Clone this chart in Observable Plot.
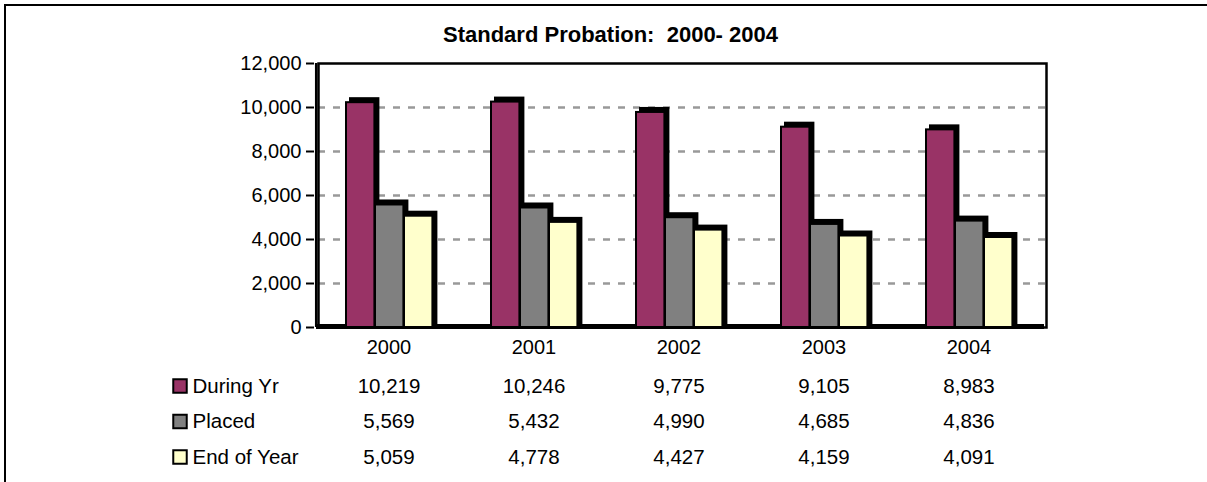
<!DOCTYPE html>
<html>
<head>
<meta charset="utf-8">
<script src="https://cdn.jsdelivr.net/npm/d3@7"></script>
<script src="https://cdn.jsdelivr.net/npm/@observablehq/plot@0.6"></script>
<style>
  html, body { margin: 0; padding: 0; background: #fff; }
  #wrap { position: relative; width: 1207px; height: 482px; overflow: hidden; }
  #border { position: absolute; left: 4px; top: 4px; width: 1300px; height: 600px;
            border-left: 2px solid #000; border-top: 2px solid #000; pointer-events: none; }
  svg text { white-space: pre; }
</style>
</head>
<body>
<div id="wrap"><div id="border"></div></div>
<script>
// ---- data ----
const years = ["2000", "2001", "2002", "2003", "2004"];
const seriesNames = ["During Yr", "Placed", "End of Year"];
const duringYr = [10219, 10246, 9775, 9105, 8983];
const placed = [5569, 5432, 4990, 4685, 4836];
const endOfYear = [5059, 4778, 4427, 4159, 4091];
const yTicks = [0, 2000, 4000, 6000, 8000, 10000, 12000];
const titleText = "Standard Probation:  2000- 2004";

// ---- build tables ----
const seriesValues = [duringYr, placed, endOfYear];
const colors = ["#993366", "#808080", "#FFFFCC"];
const rows = seriesNames.flatMap((s, si) => years.map((y, yi) => ({series: s, si, year: y, value: seriesValues[si][yi]})));

const W = 1207, H = 482;
const mL = 314, mR = 165, mT = 63, mB = 155;
const band = (W - mL - mR) / years.length;
const barEdges = [[30, 59], [59, 88], [88, 117]];
const fmt = d3.format(",");
const rowDy = [58.5, 94, 129.5];

const marks = [];
// back-wall gridlines
marks.push(Plot.ruleY(yTicks.filter(d => d > 0 && d < 12000), {stroke: "#999999", strokeWidth: 2.5, strokeDasharray: "7,8", dx: 4}));
// back wall box
marks.push(Plot.frame({stroke: "black", strokeWidth: 2.5, dx: 4}));
// left wall outer line
marks.push(Plot.ruleX([years[0]], {dx: -band / 2, stroke: "black", strokeWidth: 2.5}));
// floor
marks.push(Plot.ruleY([0], {stroke: "black", strokeWidth: 5, dx: 2, dy: -1}));
// axes
marks.push(Plot.axisY({ticks: yTicks, tickFormat: fmt, tickSize: 8, tickPadding: 5, fontSize: 20, strokeWidth: 2, label: null}));
marks.push(Plot.axisX({tickSize: 0, tickPadding: 12, fontSize: 20, label: null}));
// bars with 3D shading
seriesNames.forEach((s, si) => {
  const d = rows.filter(r => r.si === si);
  const [a, b] = barEdges[si];
  marks.push(Plot.barY(d, {x: "year", y: "value", fill: "black", stroke: "black", strokeWidth: 2,
    insetLeft: a, insetRight: band - b, dx: 4, dy: -4}));
  marks.push(Plot.barY(d, {x: "year", y: "value", fill: colors[si], stroke: "black", strokeWidth: 2,
    insetLeft: a, insetRight: band - b}));
  // data table values
  marks.push(Plot.text(d, {x: "year", text: r => fmt(r.value), frameAnchor: "bottom", lineAnchor: "middle", dy: rowDy[si], fontSize: 20.5}));
  // legend key + name
  marks.push(Plot.dot([s], {frameAnchor: "bottom-left", dx: 179.5 - mL, dy: rowDy[si], symbol: "square", r: 7.6,
    fill: colors[si], stroke: "black", strokeWidth: 2}));
  marks.push(Plot.text([s], {frameAnchor: "bottom-left", lineAnchor: "middle", dx: 192 - mL, dy: rowDy[si], text: d => d, textAnchor: "start", fontSize: 20.5}));
});
// title
marks.push(Plot.text([titleText], {frameAnchor: "top-left", lineAnchor: "middle", dx: 610 - mL, dy: -29, text: d => d, fontWeight: "bold", fontSize: 22, textAnchor: "middle"}));

const chart = Plot.plot({
  width: W, height: H,
  marginLeft: mL, marginRight: mR, marginTop: mT, marginBottom: mB,
  style: {fontFamily: "'Liberation Sans', Arial, sans-serif", fontSize: "20px", color: "black", background: "transparent", overflow: "visible"},
  x: {type: "band", domain: years, padding: 0, axis: null},
  y: {domain: [0, 12000], axis: null},
  marks
});
document.getElementById("wrap").appendChild(chart);
chart.style.position = "absolute";
chart.style.left = "0";
chart.style.top = "0";
</script>
</body>
</html>
